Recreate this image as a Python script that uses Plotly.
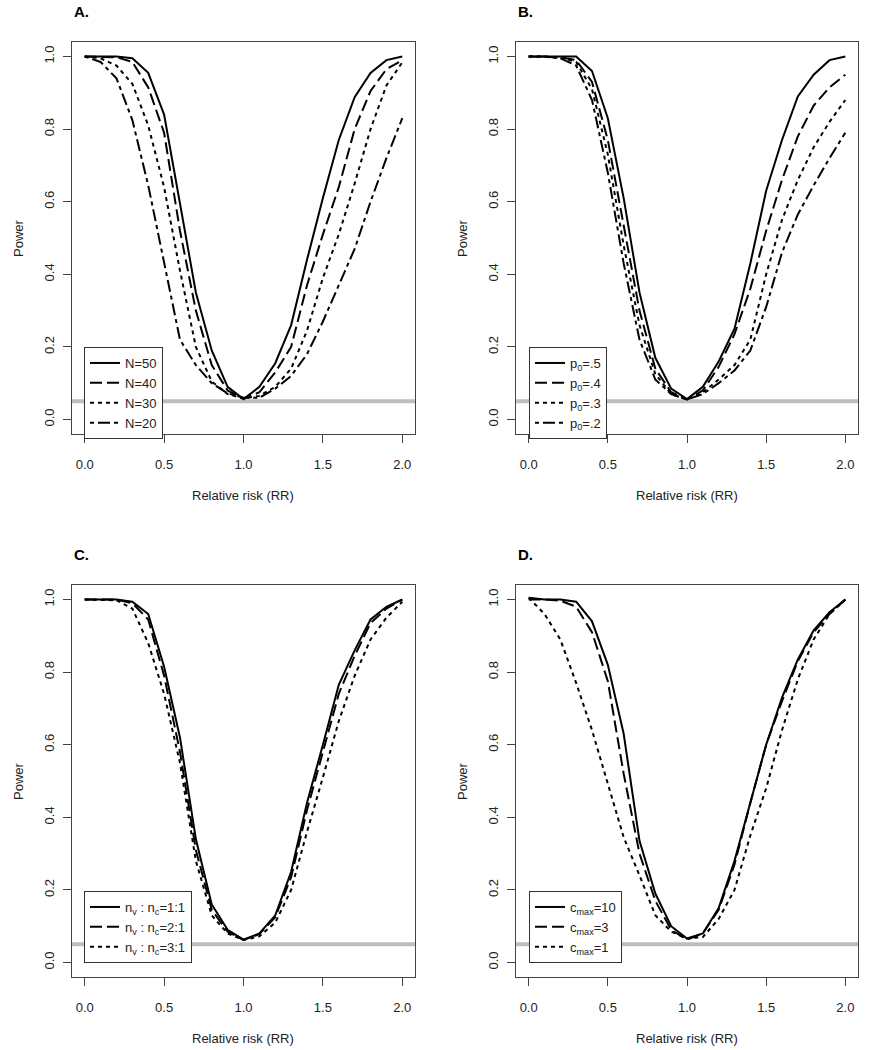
import plotly.graph_objects as go

# ---------------- data ----------------
RR = [0.0, 0.1, 0.2, 0.3, 0.4, 0.5, 0.6, 0.7, 0.8, 0.9, 1.0,
      1.1, 1.2, 1.3, 1.4, 1.5, 1.6, 1.7, 1.8, 1.9, 2.0]

# Panel A: sample size
A_N50 = [1.0, 1.0, 1.0, 0.995, 0.955, 0.84, 0.59, 0.35, 0.19, 0.09, 0.056,
         0.09, 0.155, 0.26, 0.44, 0.61, 0.77, 0.888, 0.955, 0.99, 1.0]
A_N40 = [1.0, 1.0, 0.998, 0.985, 0.915, 0.79, 0.52, 0.30, 0.15, 0.08, 0.057,
         0.075, 0.13, 0.20, 0.37, 0.51, 0.64, 0.80, 0.905, 0.965, 0.99]
A_N30 = [1.0, 0.995, 0.975, 0.925, 0.81, 0.64, 0.41, 0.20, 0.105, 0.07, 0.058,
         0.065, 0.09, 0.14, 0.245, 0.39, 0.51, 0.65, 0.80, 0.92, 0.984]
A_N20 = [1.0, 0.985, 0.94, 0.825, 0.645, 0.43, 0.22, 0.15, 0.10, 0.072, 0.06,
         0.06, 0.085, 0.12, 0.18, 0.27, 0.37, 0.47, 0.60, 0.72, 0.83]

# Panel B: baseline risk p0
B_p5 = [1.0, 1.0, 1.0, 1.0, 0.96, 0.83, 0.61, 0.35, 0.17, 0.085, 0.056,
        0.09, 0.16, 0.25, 0.43, 0.63, 0.77, 0.89, 0.95, 0.99, 1.0]
B_p4 = [1.0, 1.0, 0.998, 0.99, 0.93, 0.77, 0.53, 0.30, 0.14, 0.075, 0.055,
        0.08, 0.145, 0.235, 0.36, 0.52, 0.66, 0.78, 0.865, 0.915, 0.95]
B_p3 = [1.0, 1.0, 0.997, 0.985, 0.91, 0.73, 0.48, 0.26, 0.125, 0.07, 0.055,
        0.075, 0.11, 0.15, 0.22, 0.40, 0.55, 0.66, 0.75, 0.82, 0.88]
B_p2 = [1.0, 1.0, 0.995, 0.975, 0.88, 0.68, 0.43, 0.22, 0.11, 0.07, 0.055,
        0.07, 0.10, 0.135, 0.19, 0.31, 0.46, 0.565, 0.645, 0.72, 0.79]

# Panel C: allocation ratio
C_11 = [1.0, 1.0, 1.0, 0.994, 0.96, 0.815, 0.62, 0.34, 0.16, 0.09, 0.063,
        0.08, 0.13, 0.25, 0.44, 0.60, 0.765, 0.86, 0.945, 0.98, 1.0]
C_21 = [1.0, 1.0, 1.0, 0.99, 0.945, 0.79, 0.58, 0.31, 0.145, 0.085, 0.062,
        0.078, 0.125, 0.235, 0.42, 0.58, 0.74, 0.845, 0.935, 0.975, 1.0]
C_31 = [1.0, 1.0, 0.998, 0.975, 0.88, 0.74, 0.55, 0.28, 0.13, 0.08, 0.062,
        0.072, 0.11, 0.20, 0.36, 0.51, 0.665, 0.79, 0.89, 0.95, 0.994]

# Panel D: maximum cluster size
D_c10 = [1.005, 1.0, 1.0, 0.994, 0.94, 0.82, 0.63, 0.335, 0.19, 0.10, 0.066,
         0.08, 0.15, 0.28, 0.44, 0.60, 0.73, 0.835, 0.915, 0.965, 1.0]
D_c3 = [1.0, 1.0, 0.997, 0.98, 0.91, 0.775, 0.52, 0.30, 0.17, 0.09, 0.063,
        0.08, 0.145, 0.27, 0.44, 0.60, 0.72, 0.83, 0.91, 0.96, 1.0]
D_c1 = [1.005, 0.96, 0.89, 0.77, 0.64, 0.49, 0.345, 0.24, 0.13, 0.085, 0.066,
        0.07, 0.12, 0.20, 0.35, 0.48, 0.64, 0.78, 0.89, 0.96, 1.0]

ALPHA = 0.05
X_TICKS = [0.0, 0.5, 1.0, 1.5, 2.0]
Y_TICKS = [0.0, 0.2, 0.4, 0.6, 0.8, 1.0]

panels = [
    ("A.", [("N=50", A_N50), ("N=40", A_N40), ("N=30", A_N30), ("N=20", A_N20)]),
    ("B.", [("p<sub>0</sub>=.5", B_p5), ("p<sub>0</sub>=.4", B_p4),
            ("p<sub>0</sub>=.3", B_p3), ("p<sub>0</sub>=.2", B_p2)]),
    ("C.", [("n<sub>v</sub> : n<sub>c</sub>=1:1", C_11),
            ("n<sub>v</sub> : n<sub>c</sub>=2:1", C_21),
            ("n<sub>v</sub> : n<sub>c</sub>=3:1", C_31)]),
    ("D.", [("c<sub>max</sub>=10", D_c10), ("c<sub>max</sub>=3", D_c3),
            ("c<sub>max</sub>=1", D_c1)]),
]

# ---------------- layout geometry (pixels) ----------------
W, H = 879, 1050
DASHES = ["solid", "12px,5px", "4px,4px", "4px,4px,12px,4px"]
FONT = "Liberation Sans, Arial, sans-serif"
AXC = "#444444"

# box pixel positions: (left, right, top, bottom)
boxes = [(72, 415, 42, 434), (516, 858, 42, 434),
         (72, 415, 585, 977), (516, 858, 585, 977)]
legend_pos = [(84, 347), (529, 347), (84, 891), (529, 891)]

fig = go.Figure()
layout = dict(width=W, height=H, margin=dict(l=0, r=0, t=0, b=0),
              paper_bgcolor="white", plot_bgcolor="white",
              font=dict(family=FONT, size=13, color="#222222"),
              annotations=[], shapes=[])

def px_x(p):
    return p / W

def px_y(p):
    return 1 - p / H

for i, (title, series) in enumerate(panels):
    n = i + 1
    xa = "x" if n == 1 else f"x{n}"
    ya = "y" if n == 1 else f"y{n}"
    lg = "legend" if n == 1 else f"legend{n}"
    l, r, t, b = boxes[i]
    for k, (name, vals) in enumerate(series):
        fig.add_trace(go.Scatter(
            x=RR, y=vals, mode="lines", name=name,
            line=dict(color="black", width=2, dash=DASHES[k]),
            xaxis=xa, yaxis=ya, legend=lg, showlegend=True))
    axkey = "xaxis" if n == 1 else f"xaxis{n}"
    aykey = "yaxis" if n == 1 else f"yaxis{n}"
    layout[axkey] = dict(
        domain=[px_x(l), px_x(r)], anchor=ya, range=[-0.08, 2.08],
        tickvals=X_TICKS, tickformat=".1f", ticks="outside", ticklen=8,
        tickcolor=AXC, showline=True, linecolor=AXC, linewidth=1, mirror=True,
        showgrid=False, zeroline=False, ticklabelstandoff=10,
        tickfont=dict(size=13, color="#222222"))
    layout[aykey] = dict(
        domain=[px_y(b), px_y(t)], anchor=xa, range=[-0.04, 1.04],
        tickvals=Y_TICKS, tickformat=".1f", ticks="outside", ticklen=8,
        tickcolor=AXC, showline=True, linecolor=AXC, linewidth=1, mirror=True,
        showgrid=False, zeroline=False, tickangle=-90, ticklabelstandoff=4,
        tickfont=dict(size=13, color="#222222"))
    # alpha reference line
    layout["shapes"].append(dict(
        type="line", xref=f"{xa} domain", yref=ya, x0=0, x1=1,
        y0=ALPHA, y1=ALPHA, line=dict(color="#BEBEBE", width=4), layer="below"))
    # panel letter
    layout["annotations"].append(dict(
        text=f"<b>{title}</b>", xref="paper", yref="paper",
        x=px_x(l), y=px_y(t - 31), xanchor="left", yanchor="middle",
        showarrow=False, font=dict(size=15, color="black")))
    # axis titles
    layout["annotations"].append(dict(
        text="Relative risk (RR)", xref="paper", yref="paper",
        x=px_x((l + r) / 2), y=px_y(b + 61), xanchor="center", yanchor="middle",
        showarrow=False, font=dict(size=13, color="#222222")))
    layout["annotations"].append(dict(
        text="Power", xref="paper", yref="paper", textangle=-90,
        x=px_x(l - 54), y=px_y((t + b) / 2), xanchor="center", yanchor="middle",
        showarrow=False, font=dict(size=13, color="#222222")))
    # legend
    lx, ly = legend_pos[i]
    layout[lg] = dict(
        x=px_x(lx), y=px_y(ly), xanchor="left", yanchor="top",
        bgcolor="white", bordercolor="#333333", borderwidth=1,
        font=dict(size=13, color="#222222"), traceorder="normal",
        itemwidth=30)

fig.update_layout(**layout)
fig.write_html("out.html",
               config={"displayModeBar": False},
               post_script="document.body.style.margin='0';"
                           "document.body.style.padding='0';")
